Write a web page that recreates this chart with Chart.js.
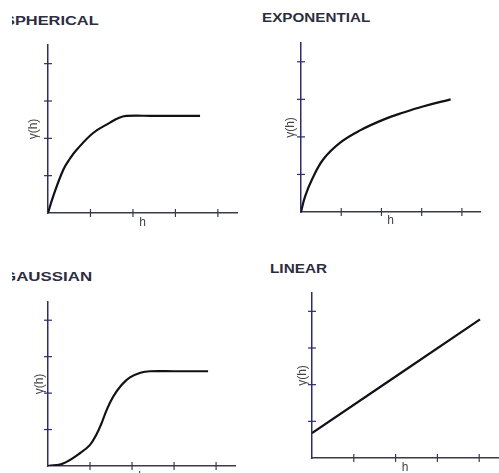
<!DOCTYPE html>
<html>
<head>
<meta charset="utf-8">
<script src="https://cdn.jsdelivr.net/npm/chart.js@4.4.1/dist/chart.umd.min.js"></script>
<style>
    html, body { margin: 0; padding: 0; background: #fff; }
    body { position: relative; width: 499px; height: 473px; overflow: hidden; }
    canvas { position: absolute; }
    .clip { position: absolute; overflow: hidden; height: 16px; }
    .title {
        position: absolute;
        white-space: nowrap;
        font: bold 13px/13px "Liberation Sans", Arial, sans-serif;
        color: #2d2d40;
        transform-origin: 0 0;
    }
</style>
</head>
<body>
<div class="clip" style="left:12px; top:14px; width:120px">
    <div class="title" style="left:-8px; top:0; transform:scaleX(1.26)">SPHERICAL</div>
</div>
<div class="title" style="left:262px; top:11px; transform:scaleX(1.17)">EXPONENTIAL</div>
<div class="clip" style="left:12px; top:270px; width:120px">
    <div class="title" style="left:-9px; top:0; transform:scaleX(1.3)">GAUSSIAN</div>
</div>
<div class="title" style="left:270px; top:262px; transform:scaleX(1.18)">LINEAR</div>

<script>
// values, in tick units (lag h, semivariance γ(h))
const hSpherical = [0, 0.12, 0.36, 0.52, 0.68, 1.07, 1.46, 1.65, 1.84, 2.5, 3.58];
const gammaSpherical = [0, 0.44, 1.16, 1.46, 1.70, 2.15, 2.42, 2.54, 2.60, 2.60, 2.60];

const hExponential = [0, 0.10, 0.27, 0.56, 0.99, 1.48, 2.05, 2.55, 3.03, 3.72];
const gammaExponential = [0, 0.41, 0.86, 1.41, 1.86, 2.18, 2.46, 2.65, 2.81, 3.00];

const hGaussian = [0, 0.36, 0.76, 1.00, 1.15, 1.27, 1.39, 1.55, 1.75, 1.95, 2.20, 2.43, 3.0, 3.81];
const gammaGaussian = [0, 0.07, 0.35, 0.58, 0.86, 1.16, 1.52, 1.90, 2.22, 2.43, 2.56, 2.60, 2.60, 2.60];

const hLinear = [0, 4.02];
const gammaLinear = [0.68, 3.78];

const tickSteps = [0, 1, 2, 3, 4];

// tick marks that cross the axis line, like the hand-drawn originals
const crossTicks = {
    id: "crossTicks",
    afterDraw(chart) {
        const { ctx, chartArea, scales } = chart;
        ctx.save();
        ctx.lineWidth = 1.2;
        ctx.strokeStyle = "#3a3a4a";
        scales.x.ticks.forEach((t, i) => {
            if (t.value === 0) return;
            const px = scales.x.getPixelForTick(i);
            ctx.beginPath();
            ctx.moveTo(px, chartArea.bottom - 4);
            ctx.lineTo(px, chartArea.bottom + 4);
            ctx.stroke();
        });
        ctx.strokeStyle = "#2c2c6e";
        scales.y.ticks.forEach((t, i) => {
            if (t.value === 0) return;
            const py = scales.y.getPixelForTick(i);
            ctx.beginPath();
            ctx.moveTo(chartArea.left - 4, py);
            ctx.lineTo(chartArea.left + 4, py);
            ctx.stroke();
        });
        ctx.restore();
    },
};

const panels = [
    { h: hSpherical, g: gammaSpherical, left: 48, top: 45, right: 237, bottom: 213, yWidth: 22, xHeight: 17 },
    { h: hExponential, g: gammaExponential, left: 301, top: 43, right: 480, bottom: 212, yWidth: 18, xHeight: 16 },
    { h: hGaussian, g: gammaGaussian, left: 48, top: 302, right: 235, bottom: 466, yWidth: 16, xHeight: 18 },
    { h: hLinear, g: gammaLinear, left: 312, top: 293, right: 498, bottom: 458, yWidth: 17, xHeight: 17 },
];

const padTop = 4;
const padRight = 3;

function makePanel(p) {
    const canvas = document.createElement("canvas");
    const w = p.right - p.left + p.yWidth + padRight;
    const hgt = p.bottom - p.top + padTop + p.xHeight;
    canvas.width = w;
    canvas.height = hgt;
    canvas.style.width = w + "px";
    canvas.style.height = hgt + "px";
    canvas.style.left = (p.left - p.yWidth) + "px";
    canvas.style.top = (p.top - padTop) + "px";
    document.body.appendChild(canvas);

    const points = p.h.map((x, i) => ({ x: x, y: p.g[i] }));
    const axisFont = { family: "'Liberation Sans', Arial, sans-serif", size: 12 };

    return new Chart(canvas.getContext("2d"), {
        type: "line",
        data: {
            datasets: [
                {
                    data: points,
                    borderColor: "#111118",
                    borderWidth: 2.2,
                    pointRadius: 0,
                    tension: 0.4,
                    fill: false,
                },
            ],
        },
        options: {
            responsive: false,
            animation: false,
            layout: { padding: { left: 0, top: padTop, right: padRight, bottom: 0 } },
            plugins: { legend: { display: false }, tooltip: { enabled: false } },
            scales: {
                x: {
                    type: "linear",
                    min: 0,
                    max: 4.45,
                    afterBuildTicks: (s) => { s.ticks = tickSteps.map((v) => ({ value: v })); },
                    afterFit: (s) => { s.height = p.xHeight; },
                    ticks: { display: false },
                    grid: { display: false },
                    border: { display: true, color: "#3a3a4a", width: 1.5 },
                    title: { display: true, text: "h", color: "#444", padding: 0, font: axisFont },
                },
                y: {
                    type: "linear",
                    min: 0,
                    max: 4.5,
                    afterBuildTicks: (s) => { s.ticks = tickSteps.map((v) => ({ value: v })); },
                    afterFit: (s) => { s.width = p.yWidth; },
                    ticks: { display: false },
                    grid: { display: false },
                    border: { display: true, color: "#2c2c6e", width: 1.5 },
                    title: { display: true, text: "γ(h)", color: "#444", padding: 0, font: axisFont },
                },
            },
        },
        plugins: [crossTicks],
    });
}

panels.forEach(makePanel);
</script>
</body>
</html>
